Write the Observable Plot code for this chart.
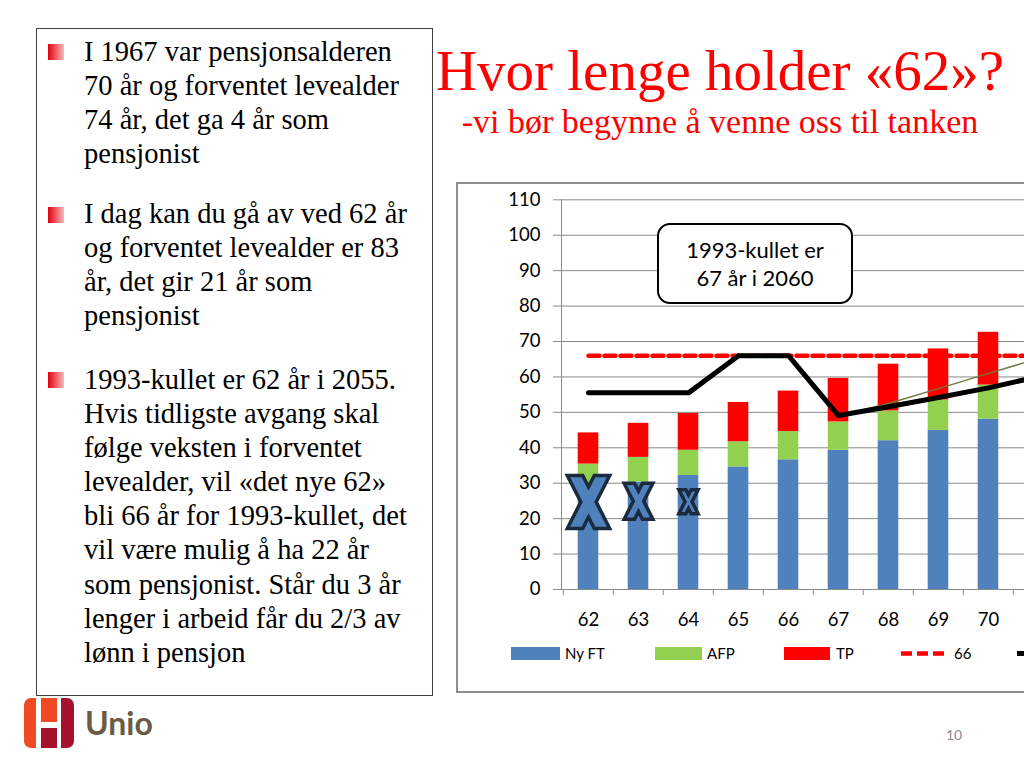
<!DOCTYPE html>
<html>
<head>
<meta charset="utf-8">
<script src="https://cdn.jsdelivr.net/npm/d3@7"></script>
<script src="https://cdn.jsdelivr.net/npm/@observablehq/plot@0.6"></script>
<style>
html,body{margin:0;padding:0;}
body{width:1024px;height:768px;overflow:hidden;position:relative;background:#fff;}
#left{position:absolute;left:36px;top:28px;width:397px;height:668px;border:1px solid #404040;box-sizing:border-box;}
.para{position:absolute;left:84px;font-family:"Liberation Serif","Times New Roman",serif;font-size:28.5px;line-height:34.1px;color:#000;white-space:nowrap;}
.sq{position:absolute;left:48px;width:16px;height:16px;background:linear-gradient(to right,#e0000e,#f8b8b8);}
#title{position:absolute;left:420px;width:600px;top:42px;text-align:center;font-family:"Liberation Serif","Times New Roman",serif;font-size:57px;line-height:57px;color:#ff0000;white-space:nowrap;}
#subtitle{position:absolute;left:420px;width:600px;top:105px;text-align:center;font-family:"Liberation Serif","Times New Roman",serif;font-size:34px;line-height:34px;color:#ff0000;white-space:nowrap;}
#frame{position:absolute;left:456px;top:182px;width:700px;height:511px;border:2px solid #8e8e8e;box-sizing:border-box;}
#chart{position:absolute;left:456px;top:182px;width:700px;}
#chart svg{max-width:none !important;}
#callout{position:absolute;left:657px;top:223px;width:196px;height:81px;border:2.3px solid #000;border-radius:13px;box-sizing:border-box;background:#fff;font-family:Lato,sans-serif;font-size:22px;line-height:28px;text-align:center;padding-top:10.5px;color:#000;}
.lg{position:absolute;font-family:Lato,sans-serif;font-size:15px;line-height:15px;color:#000;top:646px;}
.sw{position:absolute;top:647px;height:13px;}
#logo{position:absolute;left:24px;top:698px;}
#unio{position:absolute;left:85px;top:703px;font-family:Lato,sans-serif;font-weight:bold;font-size:32px;line-height:40px;color:#6b5b45;}
#pnum{position:absolute;left:946px;top:726px;font-family:Lato,sans-serif;font-size:14px;color:#8c8c8c;}
</style>
</head>
<body>
<div id="left"></div>
<div class="sq" style="top:44px"></div>
<div class="para" style="top:35px">I 1967 var pensjonsalderen<br>70 år og forventet levealder<br>74 år, det ga 4 år som<br>pensjonist</div>
<div class="sq" style="top:207px"></div>
<div class="para" style="top:197px">I dag kan du gå av ved 62 år<br>og forventet levealder er 83<br>år, det gir 21 år som<br>pensjonist</div>
<div class="sq" style="top:372px"></div>
<div class="para" style="top:363px">1993-kullet er 62 år i 2055.<br>Hvis tidligste avgang skal<br>følge veksten i forventet<br>levealder, vil «det nye 62»<br>bli 66 år for 1993-kullet, det<br>vil være mulig å ha 22 år<br>som pensjonist. Står du 3 år<br>lenger i arbeid får du 2/3 av<br>lønn i pensjon</div>

<div id="title">Hvor lenge holder «62»?</div>
<div id="subtitle">-vi bør begynne å venne oss til tanken</div>

<div id="frame"></div>
<div id="chart"></div>
<div id="callout">1993-kullet er<br>67 år i 2060</div>

<div class="sw" style="left:511px;width:49px;background:#4f81bd"></div>
<div class="lg" style="left:565px">Ny FT</div>
<div class="sw" style="left:655px;width:47px;background:#92d050"></div>
<div class="lg" style="left:707px">AFP</div>
<div class="sw" style="left:784px;width:46px;background:#ff0000"></div>
<div class="lg" style="left:836px">TP</div>
<svg style="position:absolute;left:901px;top:647px" width="47" height="13"><line x1="0" y1="6.5" x2="47" y2="6.5" stroke="#ff0000" stroke-width="4.5" stroke-dasharray="11,5"/></svg>
<div class="lg" style="left:954px">66</div>
<svg style="position:absolute;left:1017px;top:647px" width="47" height="13"><line x1="0" y1="6.5" x2="47" y2="6.5" stroke="#000" stroke-width="5"/></svg>

<svg id="logo" width="50" height="50" viewBox="0 0 50 50">
  <defs><clipPath id="rc"><rect x="0" y="0" width="50" height="50" rx="7"/></clipPath></defs>
  <g clip-path="url(#rc)">
    <rect x="0" y="0" width="25" height="50" fill="#f04a24"/>
    <rect x="25" y="0" width="25" height="50" fill="#a6122e"/>
    <rect x="17" y="0" width="16" height="24" fill="#f04a24"/>
    <rect x="17" y="30" width="16" height="20" fill="#a6122e"/>
    <rect x="12" y="0" width="5" height="50" fill="#fff"/>
    <rect x="33" y="0" width="4" height="50" fill="#fff"/>
    <rect x="12" y="24" width="25" height="6" fill="#fff"/>
  </g>
</svg>
<div id="unio">Unio</div>
<div id="pnum">10</div>

<script>
// ---- data ----
const categories = [62, 63, 64, 65, 66, 67, 68, 69, 70, 71, 72];
const barAges = [62, 63, 64, 65, 66, 67, 68, 69, 70];
const nyFT = [28.5, 30.3, 32.2, 34.6, 36.6, 39.3, 42.0, 44.9, 48.1];
const afp  = [6.9, 7.0, 7.1, 7.1, 8.0, 8.0, 8.4, 8.6, 9.6];
const tp   = [8.8, 9.6, 10.4, 11.1, 11.4, 12.3, 13.2, 14.4, 14.9];
const seriesNames = ["Ny FT", "AFP", "TP"];
const seriesColors = ["#4f81bd", "#92d050", "#ff0000"];

const dashAges = [62, 63, 64, 65, 66, 67, 68, 69, 70, 71, 72];
const dashValues = [66, 66, 66, 66, 66, 66, 66, 66, 66, 66, 66];

const blackAges = [62, 63, 64, 65, 66, 67, 68, 69, 70, 71];
const blackValues = [55.5, 55.5, 55.5, 66, 66, 49.1, 51.6, 54.2, 56.9, 60.1];

const trendAges = [67, 68, 69, 70, 71];
const trendValues = [49.1, 52.5, 56.7, 61.0, 65.2];

const crossAges = [62, 63, 64];
const crossY = [24.7, 24.9, 24.8];
const crossSize = [26.5, 18, 12];   // half-height of each cross marker

const yTicks = [0, 10, 20, 30, 40, 50, 60, 70, 80, 90, 100, 110];
const xLabelTicks = [62, 63, 64, 65, 66, 67, 68, 69, 70];

// ---- build tables ----
const barData = [];
barAges.forEach((a, i) => {
  barData.push({age: a, series: "Ny FT", value: nyFT[i]});
  barData.push({age: a, series: "AFP", value: afp[i]});
  barData.push({age: a, series: "TP", value: tp[i]});
});
const dashData = dashAges.map((a, i) => ({age: a, value: dashValues[i]}));
const blackData = blackAges.map((a, i) => ({age: a, value: blackValues[i]}));
const trendData = trendAges.map((a, i) => ({age: a, value: trendValues[i]}));
const crossData = crossAges.map((a, i) => ({age: a, y: crossY[i], size: crossSize[i]}));

// thick "X" symbol (flat-ended arms)
const crossSymbol = {
  draw(ctx, size) {
    const r = Math.sqrt(size / Math.PI);
    const b = r, a = 0.8 * r, t = 0.58 * r;
    const c = b * t / (2 * a - t), d = t / 2;
    ctx.moveTo(-a, -b);
    ctx.lineTo(-a + t, -b);
    ctx.lineTo(0, -c);
    ctx.lineTo(a - t, -b);
    ctx.lineTo(a, -b);
    ctx.lineTo(d, 0);
    ctx.lineTo(a, b);
    ctx.lineTo(a - t, b);
    ctx.lineTo(0, c);
    ctx.lineTo(-a + t, b);
    ctx.lineTo(-a, b);
    ctx.lineTo(-d, 0);
    ctx.closePath();
  }
};

const step = 50.4;
const marginLeft = 105;
const width = marginLeft + step * categories.length;

const chart = Plot.plot({
  width: width,
  height: 511,
  marginLeft: marginLeft,
  marginRight: 0,
  marginTop: 17.3,
  marginBottom: 104,
  style: {fontFamily: "Lato, sans-serif", fontSize: "18px", background: "transparent", overflow: "visible", color: "#000", maxWidth: "none"},
  x: {type: "band", domain: categories, padding: 0},
  y: {domain: [0, 110]},
  r: {type: "identity"},
  color: {domain: seriesNames, range: seriesColors},
  marks: [
    Plot.gridY({ticks: yTicks, stroke: "#8a8a8a", strokeOpacity: 1}),
    Plot.barY(barData, {x: "age", y: "value", fill: "series", order: seriesNames, insetLeft: 14.7, insetRight: 14.7}),
    Plot.frame({anchor: "left", stroke: "#8a8a8a"}),
    Plot.ruleY([0], {stroke: "#8a8a8a"}),
    Plot.axisY({ticks: yTicks, tickSize: 8, tickPadding: 13, stroke: "#8a8a8a", fill: "#000", fontSize: 18.5, label: null}),
    Plot.axisX({ticks: xLabelTicks, tickSize: 0, tickPadding: 23, fontSize: 18.5, fill: "#000", label: null}),
    Plot.axisX({tickSize: 6, tickFormat: () => "", dx: -step / 2, stroke: "#8a8a8a", label: null}),
    Plot.lineY(dashData, {x: "age", y: "value", stroke: "#ff0000", strokeWidth: 4.5, strokeDasharray: "11,5"}),
    Plot.lineY(trendData, {x: "age", y: "value", stroke: "#6f7a3b", strokeWidth: 1.5}),
    Plot.lineY(blackData, {x: "age", y: "value", stroke: "#000", strokeWidth: 5, strokeLinejoin: "round"}),
    Plot.dot(crossData, {x: "age", y: "y", r: "size", symbol: crossSymbol, fill: "#4f81bd", fillOpacity: 1, stroke: "#1b2a3c", strokeWidth: 3.5, strokeLinejoin: "miter"})
  ]
});
document.getElementById("chart").appendChild(chart);
</script>
</body>
</html>
